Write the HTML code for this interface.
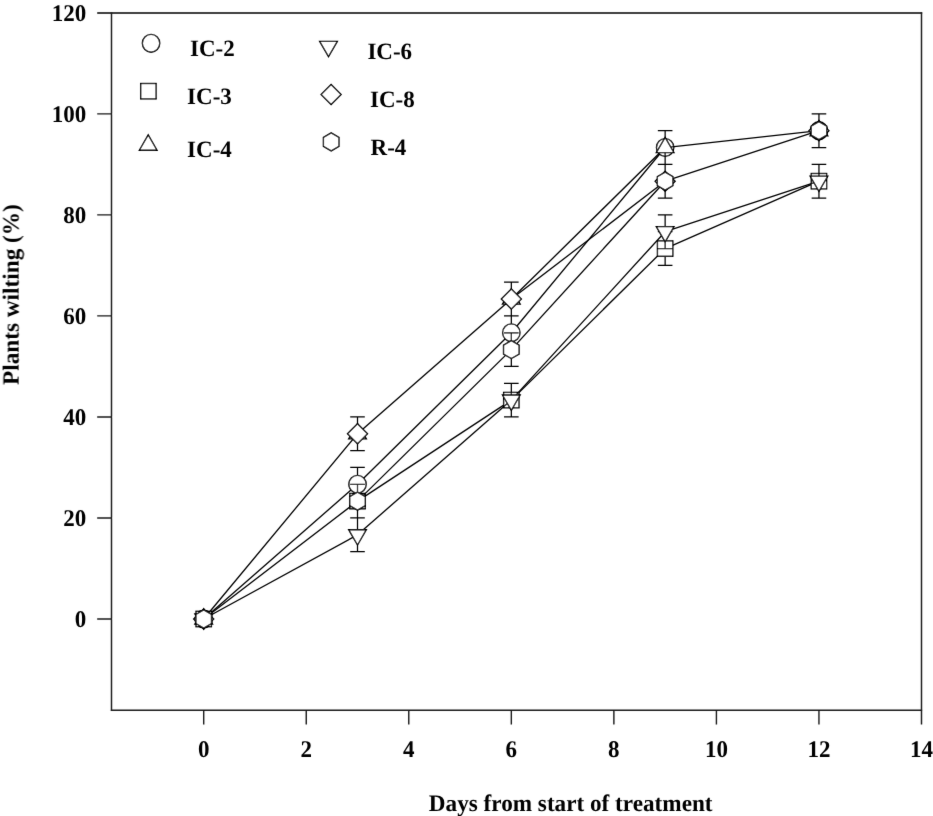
<!DOCTYPE html><html><head><meta charset="utf-8"><style>html,body{margin:0;padding:0;background:#fff;overflow:hidden;}svg{display:block;filter:grayscale(1);text-rendering:geometricPrecision;}</style></head><body>
<svg width="933" height="816" viewBox="0 0 933 816">
<rect width="933" height="816" fill="#fff"/>
<defs><filter id="bl" x="0" y="0" width="933" height="816" filterUnits="userSpaceOnUse"><feConvolveMatrix order="3" kernelMatrix="0.0049 0.0602 0.0049 0.0602 0.7396 0.0602 0.0049 0.0602 0.0049" divisor="1" edgeMode="duplicate"/></filter></defs><g filter="url(#bl)">
<path d="M97.2,13.0H922.2" fill="none" stroke="#000" stroke-width="1.5"/>
<path d="M110.8,710.2H922.2" fill="none" stroke="#1a1a1a" stroke-width="1.5"/>
<path d="M111.5,12.3V710.9000000000001M921.5,12.3V724.4M97.2,619.00H111.5M97.2,517.97H111.5M97.2,416.94H111.5M97.2,315.91H111.5M97.2,214.88H111.5M97.2,113.85H111.5M203.70,710.2V724.4M306.24,710.2V724.4M408.78,710.2V724.4M511.33,710.2V724.4M613.87,710.2V724.4M716.41,710.2V724.4M818.95,710.2V724.4" fill="none" stroke="#1a1a1a" stroke-width="1.4"/>
<g font-family='"Liberation Serif", serif' font-weight="bold" font-size="23" fill="#000"><text transform="translate(86.20,627.05) scale(1,1.04)" text-anchor="end">0</text><text transform="translate(86.20,526.02) scale(1,1.04)" text-anchor="end">20</text><text transform="translate(86.20,424.99) scale(1,1.04)" text-anchor="end">40</text><text transform="translate(86.20,323.96) scale(1,1.04)" text-anchor="end">60</text><text transform="translate(86.20,222.93) scale(1,1.04)" text-anchor="end">80</text><text transform="translate(86.20,121.90) scale(1,1.04)" text-anchor="end">100</text><text transform="translate(86.20,20.87) scale(1,1.04)" text-anchor="end">120</text><text transform="translate(203.70,757.00) scale(1,1.04)" text-anchor="middle">0</text><text transform="translate(306.24,757.00) scale(1,1.04)" text-anchor="middle">2</text><text transform="translate(408.78,757.00) scale(1,1.04)" text-anchor="middle">4</text><text transform="translate(511.33,757.00) scale(1,1.04)" text-anchor="middle">6</text><text transform="translate(613.87,757.00) scale(1,1.04)" text-anchor="middle">8</text><text transform="translate(716.41,757.00) scale(1,1.04)" text-anchor="middle">10</text><text transform="translate(818.95,757.00) scale(1,1.04)" text-anchor="middle">12</text><text transform="translate(921.49,757.00) scale(1,1.04)" text-anchor="middle">14</text><text transform="translate(428.80,810.70) scale(1,1.02)"><tspan font-size="23.2">Days from start of treatment</tspan></text><text transform="translate(18.60,385.00) rotate(-90)" font-size="23.25">Plants wilting (%)</text></g>
<path d="M203.70,619.00L357.51,484.29M357.51,484.29L511.33,332.75M511.33,332.75L665.14,147.53" fill="none" stroke="#000" stroke-width="1.3"/>
<path d="M357.51,467.46L357.51,501.13M350.21,467.46L364.81,467.46M350.21,501.13L364.81,501.13M511.33,315.91L511.33,349.58M504.03,349.58L518.63,349.58" stroke="#000" stroke-width="1.25" fill="none"/>
<ellipse cx="203.70" cy="619.00" rx="8.7" ry="8.9" fill="#fff" stroke="#000" stroke-width="1.35"/>
<ellipse cx="357.51" cy="484.29" rx="8.7" ry="8.9" fill="#fff" stroke="#000" stroke-width="1.35"/>
<ellipse cx="511.33" cy="332.75" rx="8.7" ry="8.9" fill="#fff" stroke="#000" stroke-width="1.35"/>
<ellipse cx="665.14" cy="147.53" rx="8.7" ry="8.9" fill="#fff" stroke="#000" stroke-width="1.35"/>
<ellipse cx="818.95" cy="130.69" rx="8.7" ry="8.9" fill="#fff" stroke="#000" stroke-width="1.35"/>
<path d="M357.51,501.13L511.33,400.10M511.33,400.10L665.14,248.56M665.14,248.56L818.95,181.20" fill="none" stroke="#000" stroke-width="1.3"/>
<path d="M665.14,231.72L665.14,265.39M657.84,231.72L672.44,231.72M657.84,265.39L672.44,265.39" stroke="#000" stroke-width="1.25" fill="none"/>
<rect x="196.00" y="611.30" width="15.40" height="15.40" fill="#fff" stroke="#000" stroke-width="1.35"/>
<rect x="349.81" y="493.43" width="15.40" height="15.40" fill="#fff" stroke="#000" stroke-width="1.35"/>
<rect x="503.63" y="392.40" width="15.40" height="15.40" fill="#fff" stroke="#000" stroke-width="1.35"/>
<rect x="657.44" y="240.86" width="15.40" height="15.40" fill="#fff" stroke="#000" stroke-width="1.35"/>
<rect x="811.25" y="173.50" width="15.40" height="15.40" fill="#fff" stroke="#000" stroke-width="1.35"/>
<path d="M511.33,299.07L665.14,147.53M665.14,147.53L818.95,130.69" fill="none" stroke="#000" stroke-width="1.3"/>
<path d="M665.14,130.69L665.14,164.37M657.84,130.69L672.44,130.69" stroke="#000" stroke-width="1.25" fill="none"/>
<polygon points="203.70,608.80 212.53,624.10 194.87,624.10" fill="#fff" stroke="#000" stroke-width="1.35"/>
<polygon points="357.51,423.58 366.35,438.88 348.68,438.88" fill="#fff" stroke="#000" stroke-width="1.35"/>
<polygon points="511.33,288.87 520.16,304.17 502.49,304.17" fill="#fff" stroke="#000" stroke-width="1.35"/>
<polygon points="665.14,137.33 673.97,152.63 656.31,152.63" fill="#fff" stroke="#000" stroke-width="1.35"/>
<polygon points="818.95,120.49 827.79,135.79 810.12,135.79" fill="#fff" stroke="#000" stroke-width="1.35"/>
<path d="M203.70,619.00L357.51,534.81M357.51,534.81L511.33,400.10M511.33,400.10L665.14,231.72M665.14,231.72L818.95,181.20" fill="none" stroke="#000" stroke-width="1.3"/>
<path d="M357.51,517.97L357.51,551.64M350.21,551.64L364.81,551.64M511.33,383.27L511.33,416.94M504.03,383.27L518.63,383.27M504.03,416.94L518.63,416.94M665.14,214.88L665.14,248.55M657.84,214.88L672.44,214.88M657.84,248.55L672.44,248.55M818.95,164.37L818.95,198.04M811.65,164.37L826.25,164.37M811.65,198.04L826.25,198.04" stroke="#000" stroke-width="1.25" fill="none"/>
<polygon points="203.70,629.20 212.53,613.90 194.87,613.90" fill="#fff" stroke="#000" stroke-width="1.35"/>
<polygon points="357.51,545.01 366.35,529.71 348.68,529.71" fill="#fff" stroke="#000" stroke-width="1.35"/>
<polygon points="511.33,410.30 520.16,395.00 502.49,395.00" fill="#fff" stroke="#000" stroke-width="1.35"/>
<polygon points="665.14,241.92 673.97,226.62 656.31,226.62" fill="#fff" stroke="#000" stroke-width="1.35"/>
<polygon points="818.95,191.40 827.79,176.10 810.12,176.10" fill="#fff" stroke="#000" stroke-width="1.35"/>
<path d="M203.70,619.00L357.51,433.78M357.51,433.78L511.33,299.07M511.33,299.07L665.14,181.20" fill="none" stroke="#000" stroke-width="1.3"/>
<path d="M357.51,416.94L357.51,450.61M350.21,416.94L364.81,416.94M350.21,450.61L364.81,450.61M511.33,282.24L511.33,315.91M504.03,282.24L518.63,282.24M504.03,315.91L518.63,315.91" stroke="#000" stroke-width="1.25" fill="none"/>
<polygon points="203.70,609.00 213.70,619.00 203.70,629.00 193.70,619.00" fill="#fff" stroke="#000" stroke-width="1.35"/>
<polygon points="357.51,423.78 367.51,433.78 357.51,443.78 347.51,433.78" fill="#fff" stroke="#000" stroke-width="1.35"/>
<polygon points="511.33,289.07 521.33,299.07 511.33,309.07 501.33,299.07" fill="#fff" stroke="#000" stroke-width="1.35"/>
<polygon points="665.14,171.20 675.14,181.20 665.14,191.20 655.14,181.20" fill="#fff" stroke="#000" stroke-width="1.35"/>
<polygon points="818.95,120.69 828.95,130.69 818.95,140.69 808.95,130.69" fill="#fff" stroke="#000" stroke-width="1.35"/>
<path d="M203.70,619.00L357.51,501.13M357.51,501.13L511.33,349.59M511.33,349.59L665.14,181.20M665.14,181.20L818.95,130.69" fill="none" stroke="#000" stroke-width="1.3"/>
<path d="M357.51,484.30L357.51,517.97M350.21,484.30L364.81,484.30M350.21,517.97L364.81,517.97M511.33,332.75L511.33,366.43M504.03,332.75L518.63,332.75M504.03,366.43L518.63,366.43M665.14,164.37L665.14,198.04M657.84,164.37L672.44,164.37M657.84,198.04L672.44,198.04M818.95,113.85L818.95,147.52M811.65,113.85L826.25,113.85M811.65,147.52L826.25,147.52" stroke="#000" stroke-width="1.25" fill="none"/>
<polygon points="203.70,610.00 211.49,614.50 211.49,623.50 203.70,628.00 195.91,623.50 195.91,614.50" fill="#fff" stroke="#000" stroke-width="1.35"/>
<polygon points="357.51,492.13 365.31,496.63 365.31,505.63 357.51,510.13 349.72,505.63 349.72,496.63" fill="#fff" stroke="#000" stroke-width="1.35"/>
<polygon points="511.33,340.59 519.12,345.09 519.12,354.09 511.33,358.59 503.53,354.09 503.53,345.09" fill="#fff" stroke="#000" stroke-width="1.35"/>
<polygon points="665.14,172.20 672.93,176.70 672.93,185.70 665.14,190.20 657.35,185.70 657.35,176.70" fill="#fff" stroke="#000" stroke-width="1.35"/>
<polygon points="818.95,121.69 826.75,126.19 826.75,135.19 818.95,139.69 811.16,135.19 811.16,126.19" fill="#fff" stroke="#000" stroke-width="1.35"/>
<ellipse cx="151.05" cy="43.30" rx="8.7" ry="8.9" fill="#fff" stroke="#000" stroke-width="1.35"/>
<rect x="140.70" y="83.50" width="15.40" height="15.40" fill="#fff" stroke="#000" stroke-width="1.35"/>
<polygon points="148.20,134.90 157.03,150.20 139.37,150.20" fill="#fff" stroke="#000" stroke-width="1.35"/>
<polygon points="328.50,56.65 337.33,41.35 319.67,41.35" fill="#fff" stroke="#000" stroke-width="1.35"/>
<polygon points="331.10,84.50 341.10,94.50 331.10,104.50 321.10,94.50" fill="#fff" stroke="#000" stroke-width="1.35"/>
<polygon points="331.20,132.90 338.99,137.40 338.99,146.40 331.20,150.90 323.41,146.40 323.41,137.40" fill="#fff" stroke="#000" stroke-width="1.35"/>
<g font-family='"Liberation Serif", serif' font-weight="bold" font-size="23" fill="#000"><text transform="translate(190.00,55.90) scale(1,1.02)">IC-2</text><text transform="translate(187.10,103.90) scale(1,1.02)">IC-3</text><text transform="translate(187.10,157.30) scale(1,1.02)">IC-4</text><text transform="translate(367.40,58.90) scale(1,1.02)">IC-6</text><text transform="translate(370.00,107.20) scale(1,1.02)">IC-8</text><text transform="translate(370.60,154.70) scale(1,1.02)">R-4</text></g>
</g>
</svg></body></html>
